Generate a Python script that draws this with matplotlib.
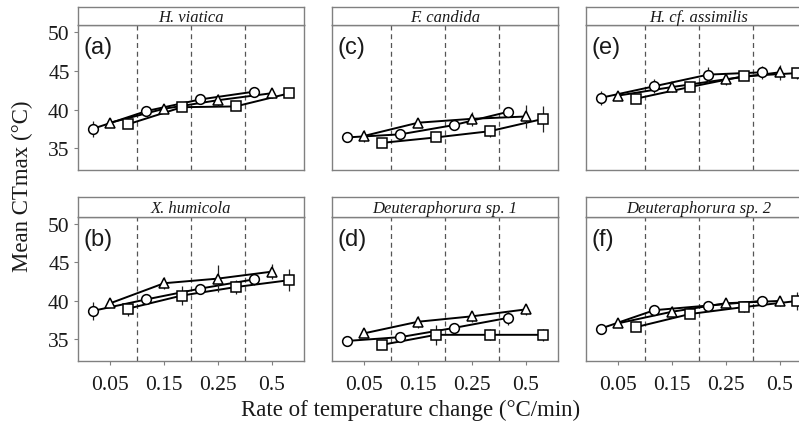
import matplotlib
matplotlib.use("Agg")
import matplotlib.pyplot as plt

# categories on the x axis and facet info
rates = ["0.05", "0.15", "0.25", "0.5"]
species = ["H. viatica", "F. candida", "H. cf. assimilis",
           "X. humicola", "Deuteraphorura sp. 1", "Deuteraphorura sp. 2"]
panel_tags = ["(a)", "(c)", "(e)", "(b)", "(d)", "(f)"]

# mean CTmax per species (same order as species), one list per marker group
circle_means = [
    [37.5, 39.8, 41.3, 42.3],
    [36.4, 36.8, 38.0, 39.7],
    [41.5, 43.0, 44.5, 44.8],
    [38.7, 40.2, 41.6, 42.8],
    [34.8, 35.3, 36.5, 37.8],
    [36.4, 38.8, 39.4, 40.0],
]
triangle_means = [
    [38.3, 40.1, 41.2, 42.1],
    [36.6, 38.3, 38.8, 39.1],
    [41.8, 42.9, 43.9, 44.8],
    [39.7, 42.3, 42.9, 43.8],
    [35.8, 37.3, 38.0, 38.9],
    [37.1, 38.6, 39.7, 40.0],
]
square_means = [
    [38.1, 40.3, 40.4, 42.1],
    [35.7, 36.4, 37.2, 38.8],
    [41.4, 42.9, 44.3, 44.7],
    [39.0, 40.7, 41.8, 42.7],
    [34.3, 35.6, 35.6, 35.6],
    [36.6, 38.3, 39.2, 40.0],
]

# error bar half-widths
circle_err = [
    [1.0, 0.5, 0.6, 0.5], [0.3, 0.4, 0.4, 0.5], [0.9, 0.9, 1.0, 0.8],
    [1.2, 0.6, 0.6, 0.7], [0.3, 0.5, 0.5, 0.9], [0.4, 0.5, 0.5, 0.6],
]
triangle_err = [
    [0.6, 0.5, 0.8, 0.6], [0.8, 0.5, 0.9, 1.5], [0.5, 0.7, 0.8, 1.0],
    [0.5, 0.8, 1.8, 1.0], [0.5, 0.8, 0.7, 0.7], [0.4, 0.8, 0.6, 0.7],
]
square_err = [
    [0.4, 0.5, 0.5, 0.5], [0.4, 0.4, 0.7, 1.7], [0.4, 0.5, 0.5, 0.7],
    [0.9, 1.2, 0.9, 1.4], [0.4, 1.3, 0.7, 0.8], [0.5, 0.5, 0.7, 1.2],
]

W, H = 799, 427
fig = plt.figure(figsize=(W / 100, H / 100), dpi=100)
fig.patch.set_facecolor("white")

serif = "Liberation Serif"
frame_col = "#808080"
text_col = "#1a1a1a"


def px_axes(x0, y0, x1, y1):
    # axes from pixel box (top-left origin)
    return fig.add_axes([x0 / W, 1 - y1 / H, (x1 - x0) / W, (y1 - y0) / H])


col_x = [(78, 304), (332, 558), (586, 812)]
row_y = [(26, 171), (218, 362)]
strip_y = [(8, 26), (198, 218)]

groups = [
    (circle_means, circle_err, "o", 7.0, -0.33),
    (triangle_means, triangle_err, "^", 7.5, 0.0),
    (square_means, square_err, "s", 6.5, 0.33),
]

for i, name in enumerate(species):
    r, c = divmod(i, 3)
    x0, x1 = col_x[c]
    y0, y1 = row_y[r]
    ax = px_axes(x0, y0, x1, y1)

    for xv in [1.5, 2.5, 3.5]:
        ax.axvline(xv, color="#555555", lw=0.9, ls=(0, (4, 3)), zorder=1)

    pos = list(range(1, len(rates) + 1))
    for means, errs, mk, ms, off in groups:
        xs = [p + off for p in pos]
        ax.plot(xs, means[i], color="black", lw=1.4, zorder=2)
        ax.errorbar(xs, means[i], yerr=errs[i], fmt="none", ecolor="#222222",
                    elinewidth=0.9, capsize=0, zorder=3)
        ax.plot(xs, means[i], ls="none", marker=mk, ms=ms,
                mfc="white", mec="black", mew=1.1, zorder=4)

    ax.set_xlim(0.4, 4.6)
    ax.set_ylim(32.2, 50.9)
    ax.set_yticks([35, 40, 45, 50])
    ax.set_xticks(pos)
    ax.set_xticklabels(rates)
    for sp in ax.spines.values():
        sp.set_color(frame_col)
        sp.set_linewidth(1.0)
    ax.tick_params(colors=frame_col, length=3, width=0.8, labelcolor=text_col,
                   pad=3)
    ax.tick_params(axis="x", pad=7)
    for lab in ax.get_xticklabels() + ax.get_yticklabels():
        lab.set_fontfamily(serif)
        lab.set_fontsize(15.5)
    if c != 0:
        ax.tick_params(axis="y", left=False, labelleft=False)
    if r == 0:
        ax.tick_params(axis="x", bottom=False, labelbottom=False)

    ax.text(0.025, 0.85, panel_tags[i], transform=ax.transAxes, ha="left",
            va="center", fontsize=17, family="Liberation Sans", color=text_col)

    # facet strip
    sy0, sy1 = strip_y[r]
    sax = px_axes(x0, sy0, x1, sy1)
    sax.set_xticks([])
    sax.set_yticks([])
    for sp in sax.spines.values():
        sp.set_color(frame_col)
        sp.set_linewidth(1.0)
    sax.text(0.5, 0.45, name, transform=sax.transAxes, ha="center", va="center",
             fontsize=12, family=serif, style="italic", color=text_col)

fig.text(22 / W, 1 - 186 / H, "Mean CTmax (°C)", rotation=90, ha="center",
         va="center", fontsize=16.5, family=serif, color=text_col)
fig.text(411 / W, 1 - 410 / H, "Rate of temperature change (°C/min)",
         ha="center", va="center", fontsize=16.5, family=serif, color=text_col)

fig.savefig("out.png", dpi=100)
